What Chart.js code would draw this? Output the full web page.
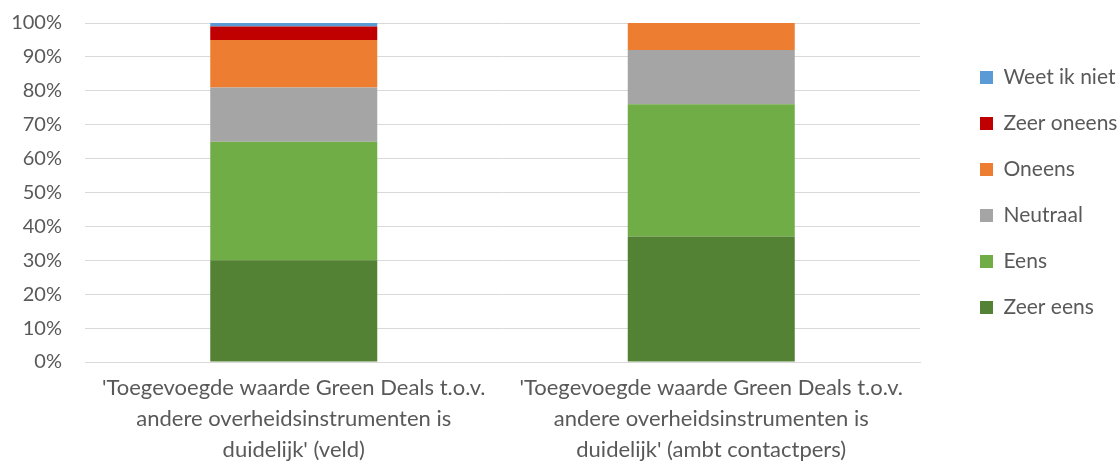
<!DOCTYPE html>
<html>
<head>
<meta charset="utf-8">
<script src="https://cdn.jsdelivr.net/npm/chart.js@4.4.1/dist/chart.umd.min.js"></script>
<style>
  html, body { margin: 0; padding: 0; background: #fff; }
</style>
</head>
<body>
<canvas id="grafiek" width="1120" height="463"></canvas>
<script>
// categorieen (x-as), elk label in drie regels
const categorieen = [
    ["'Toegevoegde waarde Green Deals t.o.v.", "andere overheidsinstrumenten is", "duidelijk' (veld)"],
    ["'Toegevoegde waarde Green Deals t.o.v.", "andere overheidsinstrumenten is", "duidelijk' (ambt contactpers)"]
];

// percentages per antwoord
const zeerEens = [30, 37];
const eens = [35, 39];
const neutraal = [16, 16];
const oneens = [14, 8];
const zeerOneens = [4, 0];
const weetIkNiet = [1, 0];

const yTicks = [0, 10, 20, 30, 40, 50, 60, 70, 80, 90, 100];

const grijs = '#595959';
const lettertype = 'Lato, "Open Sans", sans-serif';

const ctx = document.getElementById('grafiek').getContext('2d');

const grafiek = new Chart(ctx, {
    type: 'bar',
    data: {
        labels: categorieen,
        datasets: [
            { label: 'Zeer eens', data: zeerEens, backgroundColor: '#548235' },
            { label: 'Eens', data: eens, backgroundColor: '#70AD47' },
            { label: 'Neutraal', data: neutraal, backgroundColor: '#A5A5A5' },
            { label: 'Oneens', data: oneens, backgroundColor: '#ED7D31' },
            { label: 'Zeer oneens', data: zeerOneens, backgroundColor: '#C00000' },
            { label: 'Weet ik niet', data: weetIkNiet, backgroundColor: '#5B9BD5' }
        ]
    },
    options: {
        responsive: false,
        animation: false,
        devicePixelRatio: 1,
        datasets: {
            bar: { categoryPercentage: 0.4, barPercentage: 1, borderWidth: 0 }
        },
        layout: {
            padding: { left: 11, top: 23, right: 0, bottom: 0 }
        },
        scales: {
            x: {
                stacked: true,
                grid: { display: false, drawTicks: false },
                border: { display: true, color: '#D9D9D9', width: 1 },
                ticks: {
                    color: grijs,
                    padding: 10,
                    maxRotation: 0,
                    autoSkip: false,
                    font: { family: lettertype, size: 22, lineHeight: 31 / 22 }
                },
                afterFit: (schaal) => { schaal.height = 101; }
            },
            y: {
                stacked: true,
                min: 0,
                max: 100,
                afterBuildTicks: (schaal) => {
                    schaal.ticks = yTicks.map(v => ({ value: v }));
                },
                grid: { color: '#D9D9D9', drawTicks: false, lineWidth: 1 },
                border: { display: false },
                ticks: {
                    color: grijs,
                    padding: 23,
                    font: { family: lettertype, size: 20 },
                    callback: (v) => v + '%'
                },
                afterFit: (schaal) => {
                    schaal.width = 74;
                    schaal.paddingTop = 12;
                    schaal.paddingBottom = 12;
                }
            },
            // lege as als ruimte tussen plot en legenda
            ruimte: {
                position: 'right',
                display: true,
                grid: { display: false, drawTicks: false },
                border: { display: false },
                ticks: { display: false },
                afterFit: (schaal) => { schaal.width = 35; }
            }
        },
        plugins: {
            legend: {
                position: 'right',
                fullSize: false,
                reverse: true,
                maxWidth: 165,
                labels: {
                    color: grijs,
                    boxWidth: 13,
                    boxHeight: 13,
                    padding: 25,
                    font: { family: lettertype, size: 21 }
                }
            },
            tooltip: { enabled: false }
        }
    }
});
</script>
</body>
</html>
